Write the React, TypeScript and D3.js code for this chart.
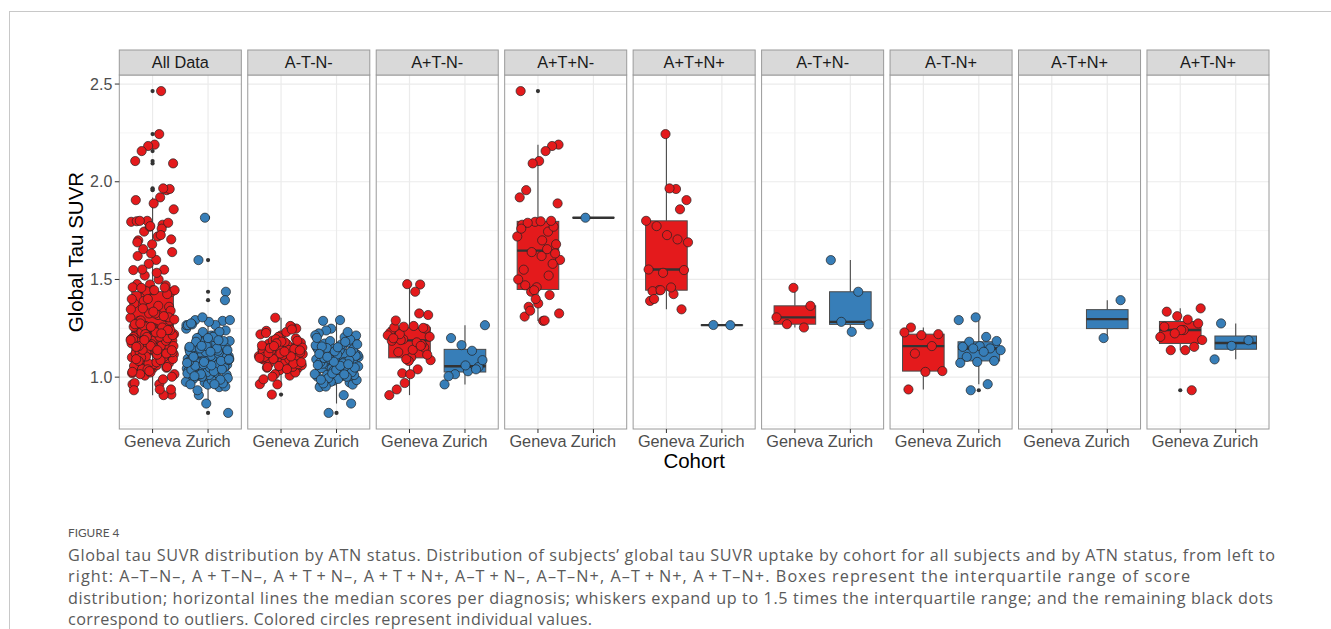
import React from "react";
import * as d3 from "d3";

const panels = ["All Data", "A-T-N-", "A+T-N-", "A+T+N-", "A+T+N+", "A-T+N-", "A-T-N+", "A-T+N+", "A+T-N+"];
const cohorts = ["Geneva", "Zurich"];
const cohortFill = ["#E41A1C", "#377EB8"];
const yTicks = [1.0, 1.5, 2.0, 2.5];
const yMinor = [0.75, 1.25, 1.75, 2.25];

// global tau SUVR per subject (one array per ATN group and cohort)
const genevaAmTmNm = [1.304, 1.118, 1.062, 1.171, 1.249, 1.095, 1.142, 1.008, 1.187, 1.126, 1.074, 1.237, 1.153, 1.101, 0.964, 1.168, 1.132, 1.045, 1.213, 1.089, 1.258, 1.116, 1.061, 1.179, 1.147, 1.024, 1.206, 1.097, 1.139, 0.911, 1.165, 1.082, 1.122, 1.053, 1.194, 1.108, 1.231, 1.071, 1.156, 1.036, 1.128, 1.262, 1.093, 1.176, 1.112, 1.048, 1.144, 0.963, 1.219, 1.085, 1.134, 1.066, 1.182, 1.104, 1.244, 1.015, 1.151, 1.078, 1.123, 1.198, 1.057, 1.162, 1.091, 1.002, 1.137, 1.114, 1.226, 1.069, 1.173, 1.099, 1.041, 1.148, 1.186, 1.121, 0.989, 1.106, 1.159, 1.076, 1.131, 1.052];
const zurichAmTmNm = [1.292, 1.288, 1.041, 0.982, 1.153, 1.078, 1.012, 1.196, 1.124, 0.957, 1.067, 1.248, 1.103, 1.035, 1.172, 0.998, 1.087, 1.141, 1.021, 0.817, 1.213, 1.059, 1.118, 0.973, 1.094, 1.163, 1.007, 1.239, 1.072, 1.134, 0.949, 1.051, 1.185, 1.113, 1.028, 1.083, 0.865, 1.146, 1.003, 1.205, 1.064, 1.121, 0.991, 1.099, 1.176, 1.044, 1.016, 1.158, 1.081, 0.962, 1.127, 1.224, 1.056, 1.107, 0.985, 1.138, 1.069, 1.192, 1.032, 1.091, 0.908, 1.149, 1.011, 1.116, 1.076, 1.231, 0.976, 1.055, 1.167, 1.098, 1.025, 1.132, 1.062, 1.181, 0.995, 1.109, 1.047, 1.157, 1.086, 1.019, 1.214, 1.071, 0.952, 1.143, 1.038, 1.119, 1.002, 1.093, 1.168, 1.058, 0.968, 1.129, 1.079, 1.201, 1.014, 1.104, 1.049, 1.153, 0.987, 1.066];
const genevaApTmNm = [1.474, 1.194, 1.087, 1.262, 0.937, 1.152, 1.476, 1.228, 1.04, 1.19, 1.318, 1.101, 1.255, 1.169, 0.97, 1.214, 1.437, 1.128, 1.248, 1.083, 1.186, 1.326, 1.02, 1.207, 1.14, 1.29, 1.252, 1.092, 0.908, 1.178, 1.22, 1.115, 1.015, 1.199, 1.16, 1.258];
const zurichApTmNm = [1.266, 1.03, 1.2, 1.052, 1.164, 0.963, 1.135, 1.015, 1.087, 1.06, 1.005, 1.04];
const genevaApTpNm = [2.464, 1.745, 1.437, 2.19, 1.62, 1.31, 2.183, 1.795, 1.5, 2.157, 1.36, 1.68, 2.106, 1.78, 1.42, 2.094, 1.6, 1.288, 1.957, 1.77, 1.46, 1.92, 1.655, 1.34, 1.889, 1.798, 1.55, 1.8, 1.445, 1.72, 1.29, 1.79, 1.633, 1.377, 1.76, 1.52, 1.64, 1.326, 1.7, 1.47, 1.58, 1.4];
const zurichApTpNm = [1.816];
const genevaApTpNp = [2.244, 1.551, 1.963, 1.445, 1.906, 1.966, 1.44, 1.859, 1.534, 1.8, 1.425, 1.773, 1.548, 1.727, 1.39, 1.705, 1.445, 1.69, 1.459, 1.4, 1.347];
const zurichApTpNp = [1.266, 1.267];
const genevaAmTpNm = [1.365, 1.457, 1.306, 1.254, 1.271];
const zurichAmTpNm = [1.599, 1.437, 1.283, 1.27, 1.232];
const genevaAmTmNp = [1.254, 1.22, 1.215, 1.229, 1.159, 1.121, 1.031, 1.027, 0.937];
const zurichAmTmNp = [1.306, 1.292, 1.206, 1.181, 1.185, 1.159, 1.155, 1.147, 1.147, 1.138, 1.13, 1.104, 1.083, 1.078, 1.073, 0.964, 0.933];
const genevaAmTpNp: number[] = [];
const zurichAmTpNp = [1.394, 1.2];
const genevaApTmNp = [1.352, 1.241, 1.335, 1.155, 1.312, 1.206, 1.295, 1.138, 1.275, 1.241, 1.258, 0.933, 1.224, 1.19, 1.138];
const zurichApTmNp = [1.275, 1.189, 1.16, 1.091];

const captionLines = [
  "Global tau SUVR distribution by ATN status. Distribution of subjects\u2019 global tau SUVR uptake by cohort for all subjects and by ATN status, from left to",
  "right: A\u2013T\u2013N\u2013, A\u2009+\u2009T\u2013N\u2013, A\u2009+\u2009T\u2009+\u2009N\u2013, A\u2009+\u2009T\u2009+\u2009N+, A\u2013T\u2009+\u2009N\u2013, A\u2013T\u2013N+, A\u2013T\u2009+\u2009N+, A\u2009+\u2009T\u2013N+. Boxes represent the interquartile range of score",
  "distribution; horizontal lines the median scores per diagnosis; whiskers expand up to 1.5 times the interquartile range; and the remaining black dots",
  "correspond to outliers. Colored circles represent individual values.",
];
// widths of the wrapped caption lines in the figure
const captionWidths = [1207, 1122, 1205, 524];

const groups: Record<string, number[][]> = {
  "A-T-N-": [genevaAmTmNm, zurichAmTmNm],
  "A+T-N-": [genevaApTmNm, zurichApTmNm],
  "A+T+N-": [genevaApTpNm, zurichApTpNm],
  "A+T+N+": [genevaApTpNp, zurichApTpNp],
  "A-T+N-": [genevaAmTpNm, zurichAmTpNm],
  "A-T-N+": [genevaAmTmNp, zurichAmTmNp],
  "A-T+N+": [genevaAmTpNp, zurichAmTpNp],
  "A+T-N+": [genevaApTmNp, zurichApTmNp],
};
const subPanels = panels.slice(1);
groups["All Data"] = [0, 1].map((c) => subPanels.flatMap((p) => groups[p][c]));

function boxStats(values: number[]) {
  const s = values.slice().sort(d3.ascending);
  const q1 = d3.quantileSorted(s, 0.25)!;
  const med = d3.quantileSorted(s, 0.5)!;
  const q3 = d3.quantileSorted(s, 0.75)!;
  const lo = q1 - 1.5 * (q3 - q1);
  const hi = q3 + 1.5 * (q3 - q1);
  const inside = s.filter((v) => v >= lo && v <= hi);
  return { q1, med, q3, wLo: d3.min(inside)!, wHi: d3.max(inside)!, outliers: s.filter((v) => v < lo || v > hi) };
}

// deterministic horizontal jitter, +-0.4 of a category like geom_jitter
const jitter = (i: number, seed: number) => ((((i * 0.6180339887 + seed) % 1) + 1) % 1) * 0.8 - 0.4;

export default function App() {
  const W = 1331, H = 629;
  const plotL = 119.3, plotR = 1269, stripTop = 50, top = 75, bottom = 429;

  const fx = d3.scaleBand<string>().domain(panels).range([plotL, plotR]).paddingInner(0.05);
  const pw = fx.bandwidth();
  const ix = d3.scaleLinear().domain([0.4, 2.6]).range([0, pw]);

  const all = Object.values(groups).flat(2);
  const [mn, mx] = d3.extent(all) as [number, number];
  const pad = (mx - mn) * 0.05;
  const y = d3.scaleLinear().domain([mn - pad, mx + pad]).range([bottom, top]);
  const fmt = d3.format(".1f");
  const unit = ix(1) - ix(0);

  const chartFont = "'Liberation Sans', Arial, sans-serif";
  const capFont = "'Open Sans', Lato, sans-serif";

  return (
    <svg width={W} height={H} style={{ position: "absolute", left: 0, top: 0, background: "#fff" }}>
      <rect x={9.5} y={11.5} width={W + 20} height={H + 20} fill="none" stroke="#c8c8c8" strokeWidth={1} />

      {panels.map((p, pi) => {
        const x0 = fx(p)!;
        const data = groups[p];
        return (
          <g key={p} transform={`translate(${x0},0)`}>
            <rect x={0} y={top} width={pw} height={bottom - top} fill="#fff" />
            {yMinor.map((t) => (
              <line key={"m" + t} x1={0} x2={pw} y1={y(t)} y2={y(t)} stroke="#f2f2f2" strokeWidth={0.8} />
            ))}
            {yTicks.map((t) => (
              <line key={"g" + t} x1={0} x2={pw} y1={y(t)} y2={y(t)} stroke="#ebebeb" strokeWidth={1.2} />
            ))}
            {cohorts.map((c, ci) => (
              <line key={"v" + c} x1={ix(ci + 1)} x2={ix(ci + 1)} y1={top} y2={bottom} stroke="#ebebeb" strokeWidth={1.2} />
            ))}

            {data.map((vals, ci) => {
              if (!vals.length) return null;
              const b = boxStats(vals);
              const cx = ix(ci + 1);
              const bw = unit * 0.75;
              return (
                <g key={"b" + ci}>
                  <line x1={cx} x2={cx} y1={y(b.q3)} y2={y(b.wHi)} stroke="#4a4a4a" strokeWidth={1.1} />
                  <line x1={cx} x2={cx} y1={y(b.q1)} y2={y(b.wLo)} stroke="#4a4a4a" strokeWidth={1.1} />
                  <rect x={cx - bw / 2} y={y(b.q3)} width={bw} height={Math.max(0.01, y(b.q1) - y(b.q3))} fill={cohortFill[ci]} stroke="#4a4a4a" strokeWidth={1} />
                  <line x1={cx - bw / 2} x2={cx + bw / 2} y1={y(b.med)} y2={y(b.med)} stroke="#333" strokeWidth={2.4} />
                  {b.outliers.map((o, k) => (
                    <circle key={k} cx={cx} cy={y(o)} r={2.1} fill="#333" />
                  ))}
                </g>
              );
            })}

            {data.map((vals, ci) =>
              vals.map((v, i) => (
                <circle
                  key={ci + "-" + i}
                  cx={ix(ci + 1) + jitter(i, pi * 0.37 + ci * 0.21) * unit}
                  cy={y(v)}
                  r={4.6}
                  fill={cohortFill[ci]}
                  stroke="#222"
                  strokeWidth={0.7}
                />
              ))
            )}

            <rect x={0} y={top} width={pw} height={bottom - top} fill="none" stroke="#9a9a9a" strokeWidth={1} />
            <rect x={0} y={stripTop} width={pw} height={top - stripTop} fill="#d9d9d9" stroke="#9a9a9a" strokeWidth={1} />
            <text x={pw / 2} y={68.3} textAnchor="middle" fontFamily={chartFont} fontSize={16.3} fill="#1a1a1a">
              {p}
            </text>

            {cohorts.map((c, ci) => (
              <g key={"t" + c}>
                <line x1={ix(ci + 1)} x2={ix(ci + 1)} y1={bottom} y2={bottom + 4} stroke="#333" strokeWidth={1} />
                <text x={ix(ci + 1)} y={446.5} textAnchor="middle" fontFamily={chartFont} fontSize={16.3} fill="#4d4d4d">
                  {c}
                </text>
              </g>
            ))}
          </g>
        );
      })}

      {yTicks.map((t) => (
        <g key={"yt" + t}>
          <line x1={plotL - 4.5} x2={plotL} y1={y(t)} y2={y(t)} stroke="#333" strokeWidth={1} />
          <text x={plotL - 7} y={y(t) + 5.6} textAnchor="end" fontFamily={chartFont} fontSize={16} fill="#4d4d4d">
            {fmt(t)}
          </text>
        </g>
      ))}

      <text transform={`translate(82.5,${(top + bottom) / 2}) rotate(-90)`} textAnchor="middle" fontFamily={chartFont} fontSize={20.5} fill="#000">
        Global Tau SUVR
      </text>
      <text x={(plotL + plotR) / 2} y={468} textAnchor="middle" fontFamily={chartFont} fontSize={20.5} fill="#000">
        Cohort
      </text>

      <text x={68} y={536.5} fontFamily="Lato, sans-serif" fontSize={11.8} fill="#555">
        FIGURE 4
      </text>
      {captionLines.map((l, i) => (
        <text
          key={i}
          x={68}
          y={561 + i * 21.4}
          fontFamily={capFont}
          fontSize={16.2}
          fill="#5a5a5a"
          textLength={captionWidths[i]}
          lengthAdjust="spacing"
        >
          {l}
        </text>
      ))}
    </svg>
  );
}
